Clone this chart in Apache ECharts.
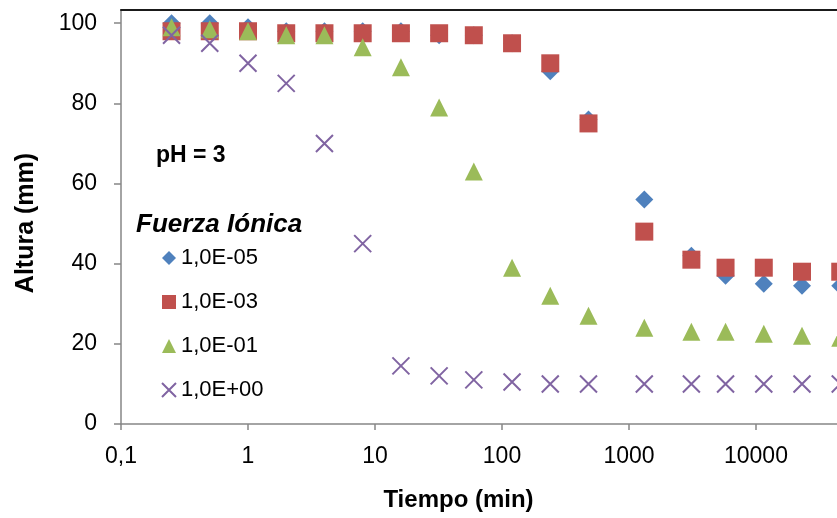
<!DOCTYPE html>
<html><head><meta charset="utf-8">
<script src="https://cdn.jsdelivr.net/npm/echarts@6/dist/echarts.min.js"></script>
<style>html,body{margin:0;padding:0;background:#fff}#c{width:837px;height:518px}</style>
</head><body><div id="c"></div>
<script>
// Data
const times = [0.25, 0.5, 1, 2, 4, 8, 16, 32, 60, 120, 240, 480, 1320, 3100, 5760, 11520, 23040, 46080];
const seriesNames = ['1,0E-05', '1,0E-03', '1,0E-01', '1,0E+00'];
const h_1e05 = [100, 100, 99, 98, 98, 98, 98, 97, 97, 95, 88, 76, 56, 42, 37, 35, 34.5, 34.5];
const h_1e03 = [98, 98, 98, 97.5, 97.5, 97.5, 97.5, 97.5, 97, 95, 90, 75, 48, 41, 39, 39, 38, 38];
const h_1e01 = [99, 98.5, 98, 97, 97, 94, 89, 79, 63, 39, 32, 27, 24, 23, 23, 22.5, 22, 21.5];
const h_1e00 = [97, 95, 90, 85, 70, 45, 14.5, 12, 11, 10.5, 10, 10, 10, 10, 10, 10, 10, 10];
const xTickValues = [0.1, 1, 10, 100, 1000, 10000];
const yTickValues = [0, 20, 40, 60, 80, 100];
const xMin = 0.1, xMax = 43450;
const yMin = 0, yMax = 103.3;
const xTitle = 'Tiempo (min)';
const yTitle = 'Altura (mm)';
const noteText = 'pH = 3';
const legendTitle = 'Fuerza Iónica';

const FONT = "'Liberation Sans', Arial, sans-serif";
const colors = ['#4f81bd', '#c0504d', '#9bbb59', '#8064a2'];
const symbols = ['diamond', 'rect', 'triangle', 'path://M0,0L10,10M10,0L0,10'];
const allData = [h_1e05, h_1e03, h_1e01, h_1e00];

const fmt = v => String(Number(Number(v).toPrecision(6))).replace('.', ',');

const chart = echarts.init(document.getElementById('c'), null, {renderer: 'canvas'});
const series = allData.map((arr, i) => ({
  name: seriesNames[i],
  type: 'scatter',
  clip: false,
  symbol: symbols[i],
  symbolSize: i === 3 ? 17 : 18,
  data: times.map((t, j) => [t, arr[j]]),
  itemStyle: i === 3
    ? {color: colors[i], borderColor: colors[i], borderWidth: 2, opacity: 1}
    : {color: colors[i], opacity: 1},
  z: 2 + i
}));

chart.setOption({
  animation: false,
  backgroundColor: '#ffffff',
  textStyle: {fontFamily: FONT},
  grid: {left: 121, right: 0, top: 10, bottom: 94, containLabel: false, outerBoundsMode: 'none'},
  xAxis: [{
    type: 'log', logBase: 10, min: xMin, max: xMax,
    name: xTitle, nameLocation: 'middle', nameGap: 64,
    nameTextStyle: {fontFamily: FONT, fontSize: 24, fontWeight: 'bold', color: '#000', padding: [0, 41, 0, 0]},
    axisLine: {lineStyle: {color: '#868686', width: 1.5}},
    axisTick: {show: true, inside: false, length: 6, lineStyle: {color: '#868686', width: 1.5}, customValues: xTickValues},
    axisLabel: {fontFamily: FONT, fontSize: 23, color: '#000', margin: 21, formatter: fmt, customValues: xTickValues},
    splitLine: {show: false},
    minorTick: {show: false}
  }, {
    type: 'log', logBase: 10, min: xMin, max: xMax, position: 'top',
    axisLine: {lineStyle: {color: '#1a1a1a', width: 2}},
    axisTick: {show: false}, axisLabel: {show: false}, splitLine: {show: false}
  }],
  yAxis: {
    type: 'value', min: yMin, max: yMax, interval: 20,
    name: yTitle, nameLocation: 'middle', nameGap: 82, nameRotate: 90,
    nameTextStyle: {fontFamily: FONT, fontSize: 25, fontWeight: 'bold', color: '#000', padding: [0, 12, 0, 0]},
    axisLine: {show: true, lineStyle: {color: '#868686', width: 1.5}},
    axisTick: {show: true, inside: false, length: 7, lineStyle: {color: '#868686', width: 1.5}, customValues: yTickValues},
    axisLabel: {fontFamily: FONT, fontSize: 23, color: '#000', margin: 24, customValues: yTickValues},
    splitLine: {show: false}
  },
  legend: {
    orient: 'vertical', left: 156, top: 242,
    itemWidth: 14, itemHeight: 14, itemGap: 22,
    data: seriesNames,
    textStyle: {fontFamily: FONT, fontSize: 22, color: '#000'},
    selectedMode: false
  },
  graphic: [
    {type: 'text', left: 156, top: 144, style: {text: noteText, font: "bold 23px 'Liberation Sans', Arial, sans-serif", fill: '#000'}},
    {type: 'text', left: 136, top: 212, style: {text: legendTitle, font: "italic bold 26px 'Liberation Sans', Arial, sans-serif", fill: '#000'}}
  ],
  series: series
});
</script>
</body></html>
